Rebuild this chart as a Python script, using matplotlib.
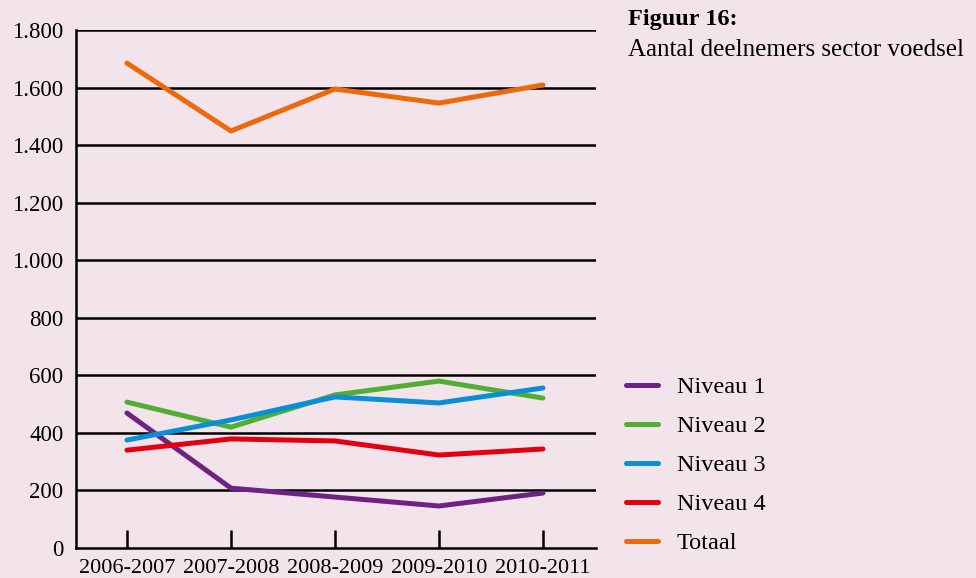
import matplotlib
matplotlib.use("Agg")
import matplotlib.pyplot as plt
import numpy as np

# data
years = ["2006-2007", "2007-2008", "2008-2009", "2009-2010", "2010-2011"]
niveau1 = [469, 208, 177, 146, 191]
niveau2 = [507, 420, 532, 580, 521]
niveau3 = [375, 445, 525, 504, 556]
niveau4 = [340, 379, 372, 323, 344]
totaal = [1685, 1449, 1595, 1546, 1609]

series = [
    ("Niveau 1", niveau1, "#6e2383"),
    ("Niveau 2", niveau2, "#52ae32"),
    ("Niveau 3", niveau3, "#0a8fd6"),
    ("Niveau 4", niveau4, "#e3000f"),
    ("Totaal", totaal, "#ec6a0c"),
]

bg = "#f3e4ec"
plt.rcParams["font.family"] = ["Liberation Serif", "DejaVu Serif"]
plt.rcParams["font.size"] = 16.5

fig = plt.figure(figsize=(9.76, 5.78), dpi=100, facecolor=bg)
ax = fig.add_axes([76 / 976, 30 / 578, 520 / 976, 518 / 578])
ax.set_facecolor(bg)

x = np.arange(len(years))
for yv in range(200, 1801, 200):
    ax.axhline(yv, color="black", lw=1.8, zorder=1)

for name, vals, col in series:
    ax.plot(x, vals, color=col, lw=3.6, solid_capstyle="round", label=name, zorder=3)

ax.set_xlim(-0.49, 4.51)
ax.set_ylim(0, 1800)
ax.set_yticks(range(0, 1801, 200))
ax.set_yticklabels(["0", "200", "400", "600", "800", "1.000", "1.200", "1.400", "1.600", "1.800"])
ax.set_xticks(x)
ax.set_xticklabels(years, fontsize=16)
ax.tick_params(axis="y", length=0, pad=9)
ax.tick_params(axis="x", direction="in", length=13, width=1.8, pad=8)

for s in ["top", "right"]:
    ax.spines[s].set_visible(False)
for s in ["left", "bottom"]:
    ax.spines[s].set_linewidth(1.8)

fig.text(628 / 976, 1 - 20 / 578, "Figuur 16:", fontsize=17.5, fontweight="bold", va="center", ha="left")
fig.text(628 / 976, 1 - 50 / 578, "Aantal deelnemers sector voedsel", fontsize=18, va="center", ha="left")

fig.legend(loc="upper left", bbox_to_anchor=(626 / 976, 1 - 376 / 578),
           frameon=False, borderpad=0, borderaxespad=0, fontsize=17.5,
           handlelength=1.3, handletextpad=0.8, labelspacing=0.7)

fig.savefig("out.png", dpi=100, facecolor=bg)
